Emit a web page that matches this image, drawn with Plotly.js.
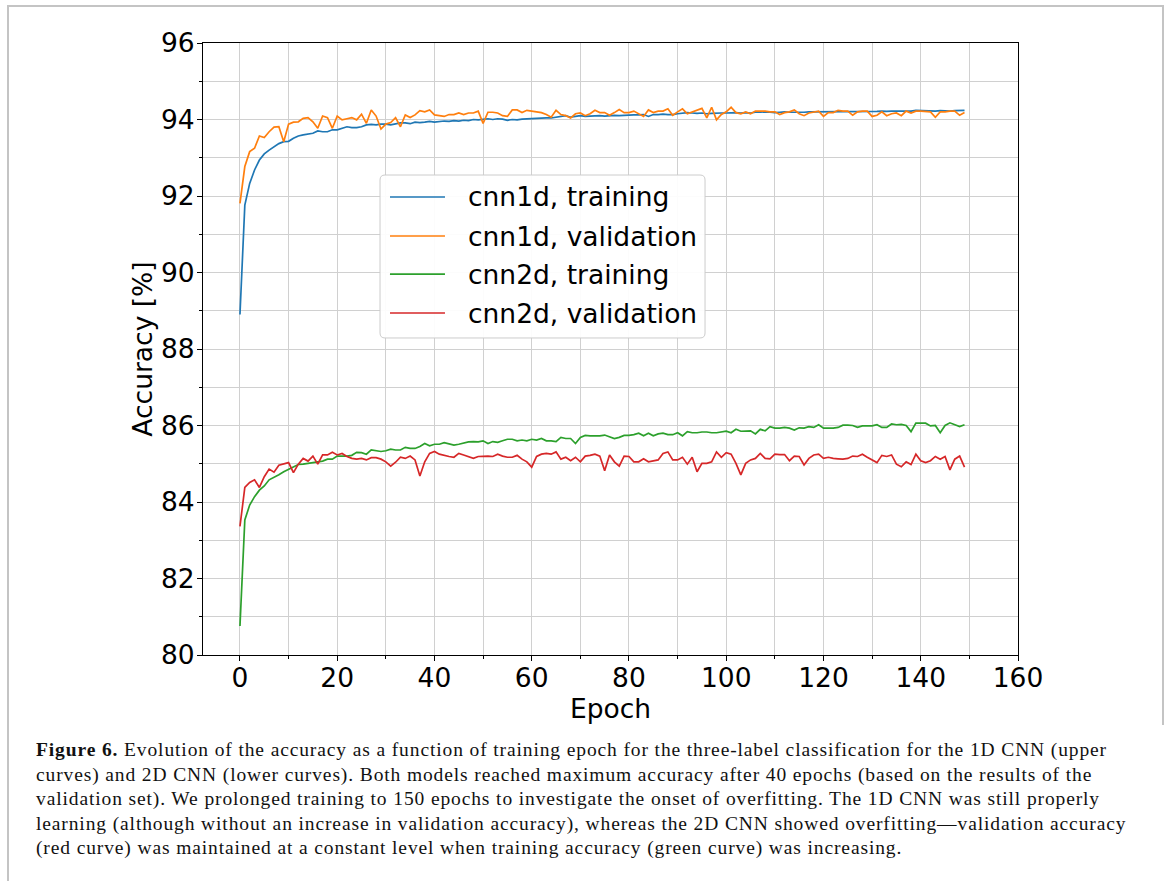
<!DOCTYPE html>
<html>
<head>
<meta charset="utf-8">
<script src="https://cdn.plot.ly/plotly-3.0.1.min.js"></script>
<style>
  html, body { margin: 0; padding: 0; background: #ffffff; }
  #page { position: relative; width: 1168px; height: 881px; overflow: hidden; background: #fff; }
  #chart { position: absolute; left: 0; top: 0; width: 1168px; height: 725px; }
  .frame { position: absolute; background: #c4c4c4; }
  #caption { position: absolute; left: 36px; top: 738px; font-family: "Liberation Serif", "DejaVu Serif", serif;
             font-size: 19.5px; letter-spacing: 0.88px; line-height: 24.5px; color: #111; white-space: nowrap; }
</style>
</head>
<body>
<div id="page">
  <div class="frame" style="left:7px; top:5px; width:1157px; height:2px;"></div>
  <div class="frame" style="left:7px; top:5px; width:2px; height:876px;"></div>
  <div class="frame" style="left:1162px; top:5px; width:2px; height:720px;"></div>
  <div id="chart"></div>
  <div id="caption">
    <div><b>Figure 6.</b> Evolution of the accuracy as a function of training epoch for the three-label classification for the 1D CNN (upper</div>
    <div>curves) and 2D CNN (lower curves). Both models reached maximum accuracy after 40 epochs (based on the results of the</div>
    <div>validation set). We prolonged training to 150 epochs to investigate the onset of overfitting. The 1D CNN was still properly</div>
    <div>learning (although without an increase in validation accuracy), whereas the 2D CNN showed overfitting—validation accuracy</div>
    <div>(red curve) was maintained at a constant level when training accuracy (green curve) was increasing.</div>
  </div>
</div>
<script>
// ---- data (epochs 0..149) ----
const seriesNames = ["cnn1d, training", "cnn1d, validation", "cnn2d, training", "cnn2d, validation"];

const cnn1dTraining = [
  88.90, 91.76, 92.33, 92.68, 92.94, 93.10, 93.20, 93.29, 93.37, 93.42,
  93.43, 93.51, 93.57, 93.60, 93.62, 93.64, 93.70, 93.68, 93.68, 93.73,
  93.73, 93.77, 93.81, 93.79, 93.79, 93.81, 93.86, 93.87, 93.86, 93.88,
  93.88, 93.86, 93.89, 93.91, 93.91, 93.89, 93.93, 93.92, 93.93, 93.95,
  93.93, 93.95, 93.96, 93.95, 93.97, 93.96, 93.98, 93.97, 94.00, 93.99,
  94.01, 94.02, 94.00, 94.02, 94.01, 93.98, 94.00, 93.99, 94.01, 94.02,
  94.02, 94.03, 94.03, 94.04, 94.04, 94.06, 94.07, 94.10, 94.06, 94.08,
  94.10, 94.08, 94.09, 94.10, 94.10, 94.09, 94.10, 94.11, 94.10, 94.11,
  94.11, 94.12, 94.12, 94.13, 94.08, 94.13, 94.13, 94.14, 94.13, 94.13,
  94.15, 94.16, 94.18, 94.17, 94.16, 94.17, 94.15, 94.16, 94.17, 94.17,
  94.17, 94.18, 94.18, 94.17, 94.18, 94.17, 94.19, 94.19, 94.20, 94.19,
  94.18, 94.19, 94.20, 94.19, 94.19, 94.18, 94.19, 94.20, 94.20, 94.20,
  94.20, 94.21, 94.20, 94.21, 94.20, 94.21, 94.20, 94.21, 94.21, 94.20,
  94.21, 94.21, 94.22, 94.21, 94.22, 94.22, 94.22, 94.23, 94.22, 94.24,
  94.23, 94.23, 94.22, 94.22, 94.23, 94.22, 94.22, 94.23, 94.23, 94.24
];

const cnn1dValidation = [
  91.81, 92.77, 93.16, 93.25, 93.57, 93.53, 93.68, 93.80, 93.81, 93.42,
  93.88, 93.93, 93.94, 94.03, 94.05, 93.94, 93.77, 94.09, 94.05, 93.77,
  94.09, 93.99, 94.02, 94.05, 93.99, 94.14, 93.90, 94.25, 94.09, 93.75,
  93.88, 93.92, 94.05, 93.81, 94.12, 94.05, 94.12, 94.23, 94.20, 94.25,
  94.12, 94.10, 94.08, 94.13, 94.13, 94.17, 94.13, 94.17, 94.17, 94.22,
  93.90, 94.19, 94.19, 94.17, 94.10, 94.08, 94.25, 94.25, 94.18, 94.24,
  94.22, 94.20, 94.18, 94.13, 94.06, 94.24, 94.13, 94.10, 94.04, 94.15,
  94.17, 94.10, 94.15, 94.24, 94.18, 94.18, 94.11, 94.18, 94.26, 94.18,
  94.18, 94.22, 94.15, 94.08, 94.25, 94.18, 94.22, 94.22, 94.28, 94.11,
  94.20, 94.28, 94.15, 94.20, 94.24, 94.29, 94.04, 94.32, 93.99, 94.13,
  94.20, 94.32, 94.18, 94.15, 94.20, 94.15, 94.22, 94.22, 94.22, 94.20,
  94.20, 94.13, 94.18, 94.20, 94.25, 94.15, 94.10, 94.17, 94.20, 94.22,
  94.08, 94.18, 94.18, 94.24, 94.22, 94.22, 94.11, 94.20, 94.22, 94.22,
  94.08, 94.11, 94.20, 94.10, 94.15, 94.17, 94.10, 94.22, 94.17, 94.22,
  94.22, 94.20, 94.20, 94.06, 94.20, 94.20, 94.22, 94.22, 94.11, 94.18
];

const cnn2dTraining = [
  80.76, 83.53, 83.92, 84.14, 84.31, 84.42, 84.58, 84.64, 84.71, 84.79,
  84.86, 84.92, 84.98, 84.99, 85.01, 85.03, 85.05, 85.07, 85.12, 85.12,
  85.20, 85.20, 85.20, 85.22, 85.30, 85.29, 85.25, 85.36, 85.34, 85.32,
  85.34, 85.38, 85.36, 85.36, 85.43, 85.40, 85.40, 85.45, 85.53, 85.47,
  85.51, 85.51, 85.55, 85.52, 85.49, 85.51, 85.55, 85.57, 85.58, 85.57,
  85.60, 85.53, 85.58, 85.56, 85.60, 85.64, 85.64, 85.60, 85.62, 85.60,
  85.64, 85.62, 85.66, 85.60, 85.60, 85.58, 85.69, 85.66, 85.66, 85.53,
  85.69, 85.74, 85.73, 85.73, 85.73, 85.75, 85.71, 85.66, 85.69, 85.74,
  85.74, 85.76, 85.80, 85.73, 85.80, 85.73, 85.78, 85.80, 85.76, 85.76,
  85.81, 85.73, 85.84, 85.81, 85.81, 85.83, 85.83, 85.81, 85.81, 85.83,
  85.85, 85.81, 85.90, 85.85, 85.85, 85.86, 85.78, 85.90, 85.86, 85.97,
  85.93, 85.93, 85.95, 85.93, 85.88, 85.94, 85.93, 85.97, 85.95, 86.02,
  85.93, 85.93, 85.93, 85.95, 86.01, 86.01, 86.00, 85.95, 85.99, 85.99,
  85.99, 86.02, 85.95, 85.95, 86.04, 86.02, 86.03, 86.00, 85.84, 86.06,
  86.06, 86.06, 85.99, 86.00, 85.81, 86.00, 86.07, 86.01, 85.97, 86.02
];

const cnn2dValidation = [
  83.36, 84.38, 84.51, 84.58, 84.38, 84.66, 84.86, 84.78, 84.96, 84.99,
  85.03, 84.77, 84.99, 85.14, 85.07, 85.20, 84.99, 85.23, 85.23, 85.30,
  85.23, 85.27, 85.19, 85.14, 85.12, 85.14, 85.10, 85.16, 85.16, 85.12,
  85.05, 84.94, 85.04, 85.17, 85.14, 85.20, 85.10, 84.68, 85.05, 85.27,
  85.32, 85.25, 85.21, 85.19, 85.17, 85.27, 85.23, 85.19, 85.14, 85.19,
  85.20, 85.20, 85.19, 85.25, 85.20, 85.17, 85.17, 85.22, 85.12, 85.05,
  84.91, 85.19, 85.25, 85.27, 85.25, 85.31, 85.12, 85.17, 85.08, 85.17,
  85.05, 85.20, 85.22, 85.25, 85.20, 84.82, 85.23, 85.05, 84.94, 85.20,
  85.19, 85.05, 85.05, 85.13, 85.05, 85.08, 85.10, 85.27, 85.31, 85.10,
  85.10, 85.17, 84.99, 85.17, 84.79, 85.01, 85.01, 85.05, 85.31, 85.17,
  85.29, 85.25, 85.01, 84.71, 85.01, 85.10, 85.14, 85.27, 85.14, 85.13,
  85.25, 85.24, 85.24, 85.08, 85.20, 85.19, 84.97, 85.14, 85.23, 85.25,
  85.14, 85.17, 85.14, 85.13, 85.12, 85.14, 85.20, 85.19, 85.25, 85.17,
  85.10, 85.03, 85.22, 85.19, 85.23, 84.99, 84.92, 85.05, 84.98, 85.25,
  85.08, 85.03, 85.08, 85.19, 85.12, 85.19, 84.84, 85.12, 85.20, 84.91
];

const epochs = cnn1dTraining.map((_, i) => i);
const seriesValues = [cnn1dTraining, cnn1dValidation, cnn2dTraining, cnn2dValidation];
const seriesColors = ["#1f77b4", "#ff7f0e", "#2ca02c", "#d62728"];

const FONT = "DejaVu Sans, Arial, sans-serif";
const FS = 26.5;

const traces = seriesValues.map((vals, k) => ({
  type: "scatter", mode: "lines", x: epochs, y: vals, name: seriesNames[k],
  line: { color: seriesColors[k], width: 1.7 }, showlegend: false
}));

// ---- legend drawn as a framed box (matplotlib style: long line samples) ----
const L = { x0: 0.2172, x1: 0.6160, yTop: 0.7843, yBot: 0.5180,
            lineX0: 0.2294, lineX1: 0.2969, textX: 0.3227,
            rows: [0.7484, 0.6846, 0.6225, 0.5588] };
const rx = 5 / 815, ry = 5 / 612;
const boxPath = `M ${L.x0 + rx} ${L.yTop} L ${L.x1 - rx} ${L.yTop} Q ${L.x1} ${L.yTop} ${L.x1} ${L.yTop - ry} ` +
                `L ${L.x1} ${L.yBot + ry} Q ${L.x1} ${L.yBot} ${L.x1 - rx} ${L.yBot} ` +
                `L ${L.x0 + rx} ${L.yBot} Q ${L.x0} ${L.yBot} ${L.x0} ${L.yBot + ry} ` +
                `L ${L.x0} ${L.yTop - ry} Q ${L.x0} ${L.yTop} ${L.x0 + rx} ${L.yTop} Z`;
const shapes = [{ type: "path", xref: "paper", yref: "paper", path: boxPath,
                  fillcolor: "rgba(255,255,255,0.92)", line: { color: "#cccccc", width: 1 }, layer: "above" }];
const annotations = [];
seriesNames.forEach((nm, k) => {
  shapes.push({ type: "line", xref: "paper", yref: "paper", x0: L.lineX0, x1: L.lineX1,
                y0: L.rows[k], y1: L.rows[k], line: { color: seriesColors[k], width: 1.7 }, layer: "above" });
  annotations.push({ xref: "paper", yref: "paper", x: L.textX, y: L.rows[k], xanchor: "left", yanchor: "middle",
                     text: nm, showarrow: false, font: { family: FONT, size: FS, color: "#000" } });
});

const layout = {
  width: 1168, height: 725,
  margin: { l: 203, r: 150, t: 43, b: 70 },
  paper_bgcolor: "rgba(0,0,0,0)", plot_bgcolor: "#ffffff",
  font: { family: FONT, size: FS, color: "#000" },
  showlegend: false,
  shapes: shapes,
  annotations: annotations,
  xaxis: {
    range: [-7.6, 160], tickmode: "linear", tick0: 0, dtick: 20,
    ticks: "outside", ticklen: 5, tickwidth: 1, tickcolor: "#000", ticklabelstandoff: -6,
    showline: true, linecolor: "#000", linewidth: 1, mirror: true,
    showgrid: true, gridcolor: "#d0d0d0", gridwidth: 1, zeroline: false,
    minor: { dtick: 10, tick0: 0, ticks: "outside", ticklen: 3, tickcolor: "#000", showgrid: true, gridcolor: "#d0d0d0", gridwidth: 1 },
    tickfont: { family: FONT, size: FS },
    title: { text: "Epoch", font: { family: FONT, size: FS }, standoff: 2 }
  },
  yaxis: {
    range: [80, 96], tickmode: "linear", tick0: 80, dtick: 2,
    ticks: "outside", ticklen: 5, tickwidth: 1, tickcolor: "#000", ticklabelstandoff: -3,
    showline: true, linecolor: "#000", linewidth: 1, mirror: true,
    showgrid: true, gridcolor: "#d0d0d0", gridwidth: 1, zeroline: false,
    minor: { dtick: 1, tick0: 80, ticks: "outside", ticklen: 3, tickcolor: "#000", showgrid: true, gridcolor: "#d0d0d0", gridwidth: 1 },
    tickfont: { family: FONT, size: FS },
    title: { text: "Accuracy [%]", font: { family: FONT, size: FS }, standoff: 0 }
  }
};

Plotly.newPlot("chart", traces, layout, { displayModeBar: false, staticPlot: true });
</script>
</body>
</html>
